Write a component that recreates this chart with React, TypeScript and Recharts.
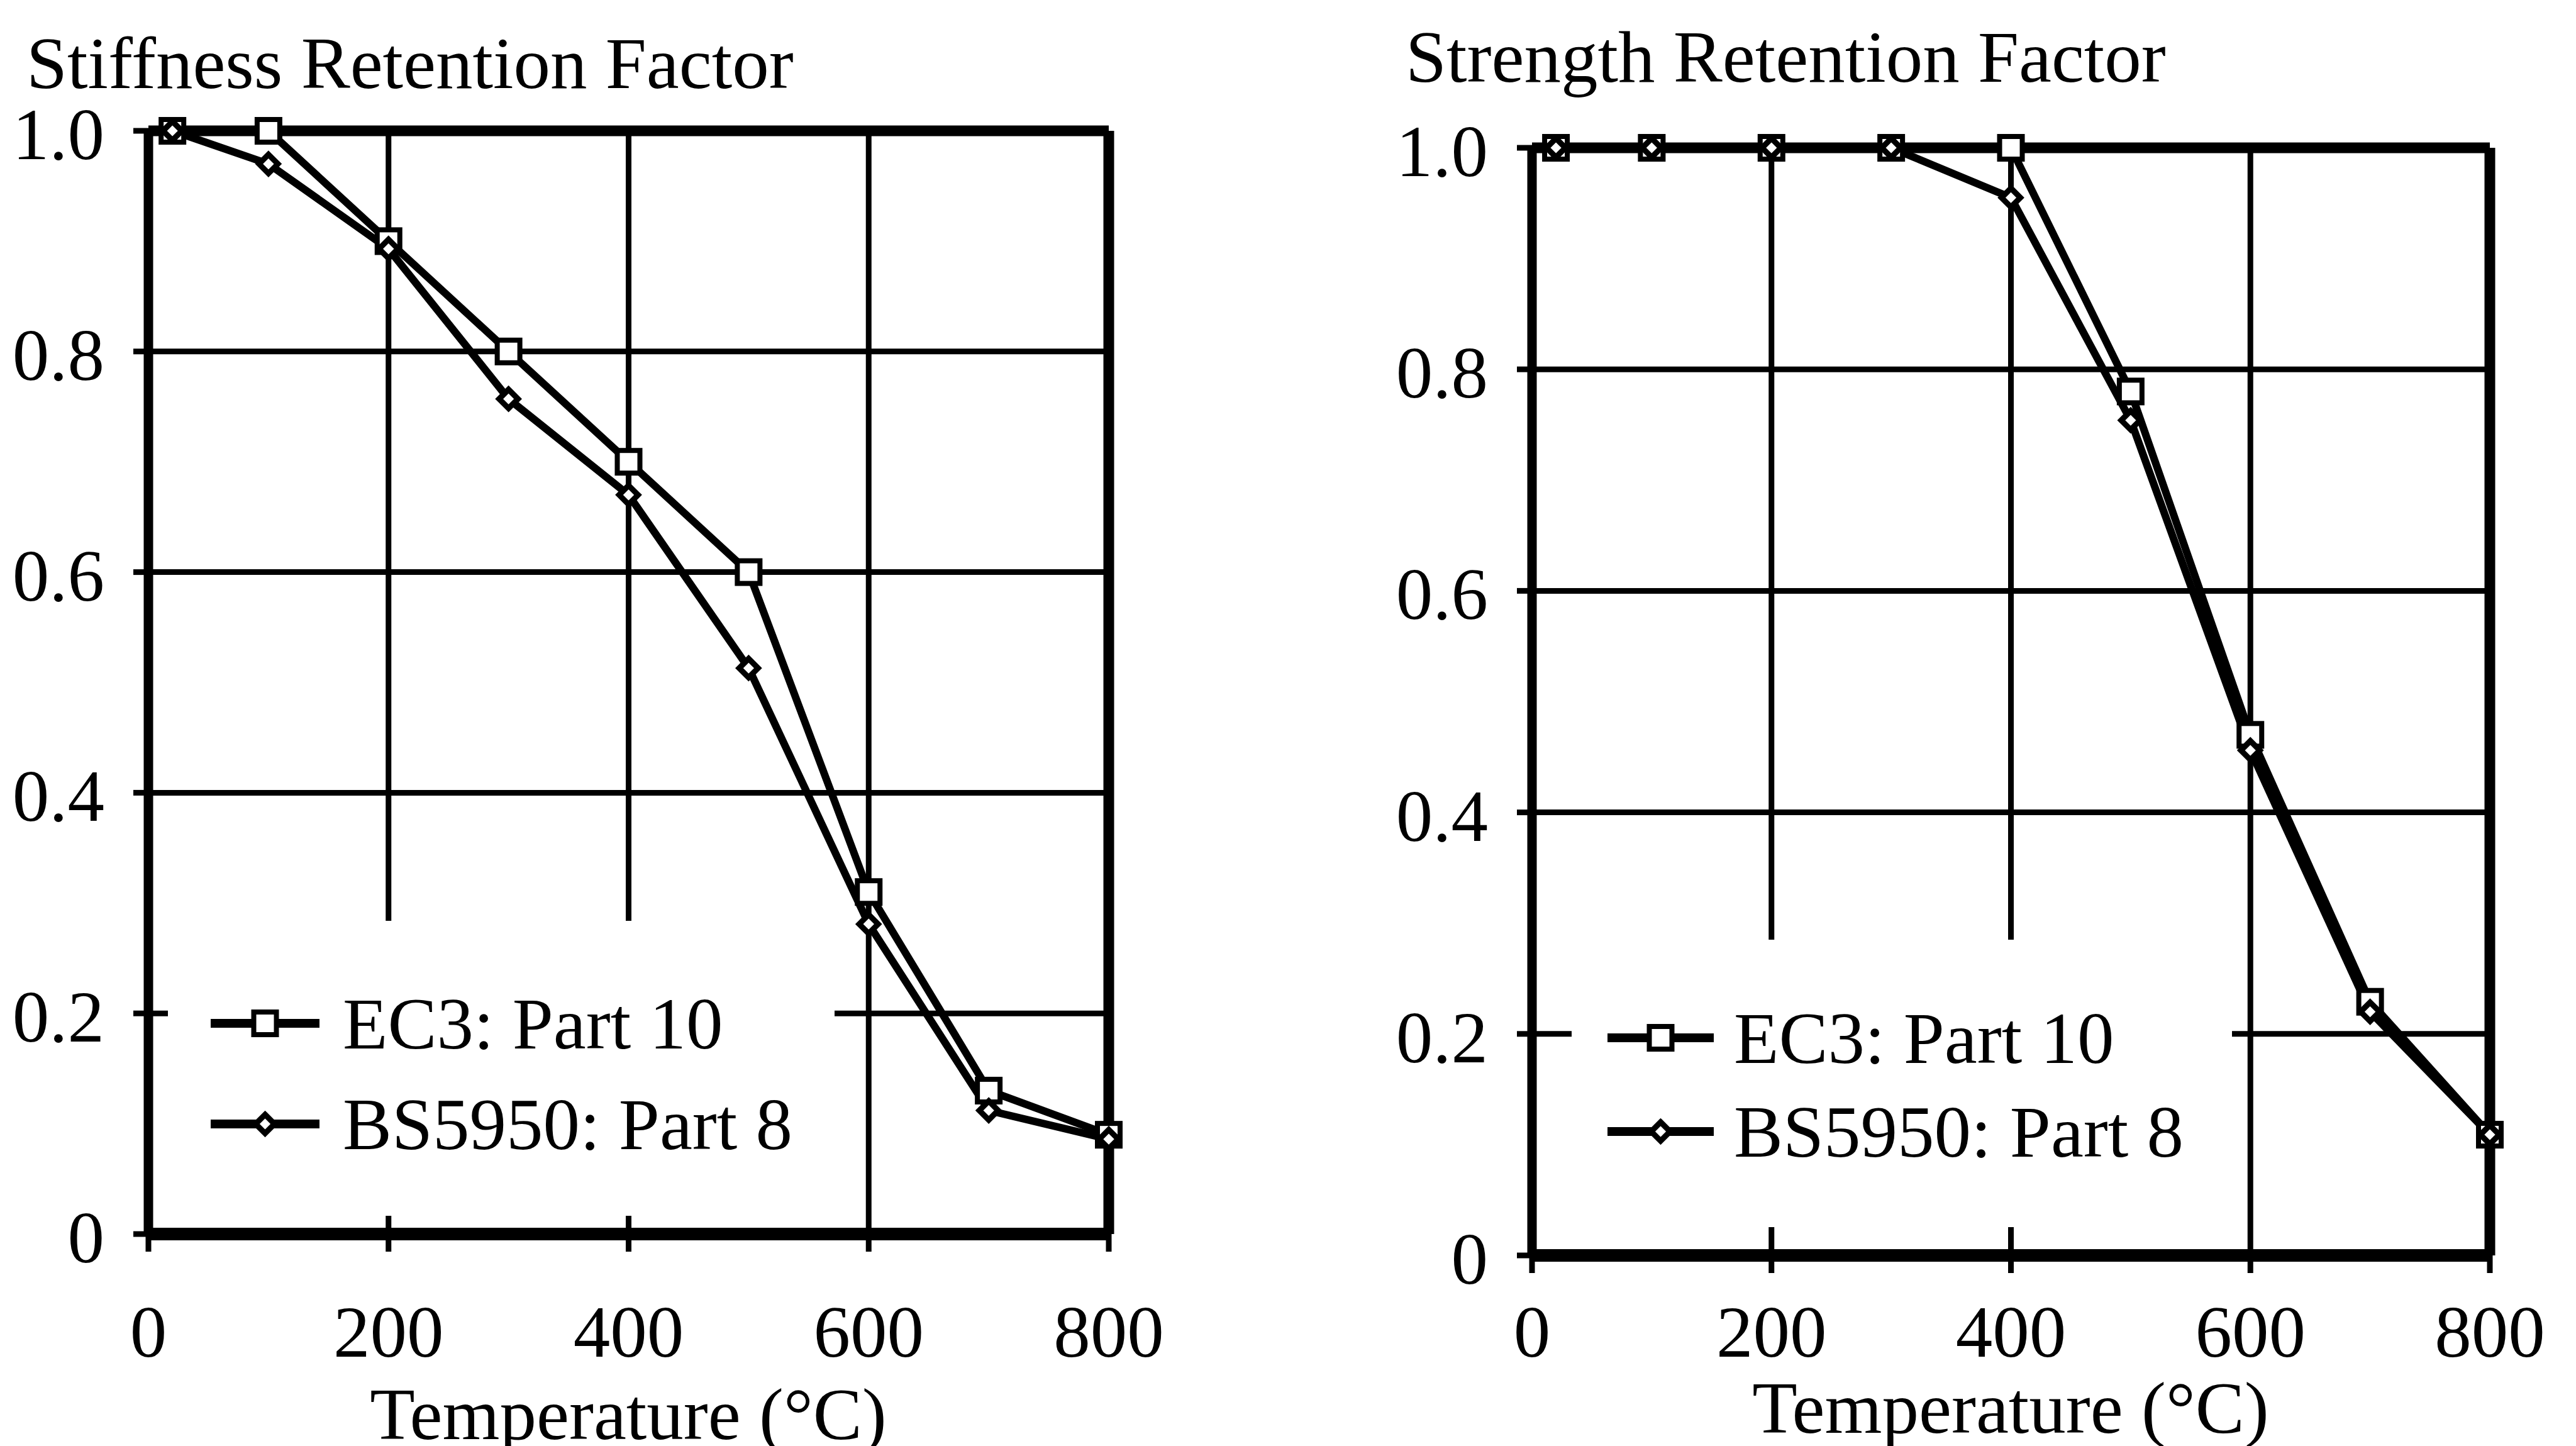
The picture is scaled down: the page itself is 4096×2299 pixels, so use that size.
import React from "react";
import { CartesianGrid, Line, LineChart, ReferenceLine, XAxis, YAxis } from "recharts";

// Temperatures (°C) at which the reduction factors are tabulated
const temps = [20, 100, 200, 300, 400, 500, 600, 700, 800];

// Stiffness retention factors
const stiffnessEC3 = [1.0, 1.0, 0.9, 0.8, 0.7, 0.6, 0.31, 0.13, 0.09];
const stiffnessBS = [1.0, 0.97, 0.893, 0.757, 0.67, 0.513, 0.281, 0.112, 0.086];

// Strength retention factors
const strengthEC3 = [1.0, 1.0, 1.0, 1.0, 1.0, 0.78, 0.47, 0.229, 0.109];
const strengthBS = [1.0, 1.0, 1.0, 1.0, 0.955, 0.754, 0.456, 0.22, 0.109];

const xTicks = [0, 200, 400, 600, 800];
const yTicks = [0, 0.2, 0.4, 0.6, 0.8, 1.0];
const seriesNames = ["EC3: Part 10", "BS5950: Part 8"];

const FONT = '"Liberation Serif", "Times New Roman", serif';
const FS = 117;

const Square = (props: any) => {
  const { cx, cy, index } = props;
  if (cx == null || cy == null) return null;
  return (
    <rect key={`sq-${index}`} x={cx - 18} y={cy - 18} width={36} height={36}
      fill="#fff" stroke="#000" strokeWidth={8} />
  );
};

const Diamond = (props: any) => {
  const { cx, cy, index } = props;
  if (cx == null || cy == null) return null;
  const r = 15;
  return (
    <path key={`dm-${index}`}
      d={`M${cx},${cy - r} L${cx + r},${cy} L${cx},${cy + r} L${cx - r},${cy} Z`}
      fill="#fff" stroke="#000" strokeWidth={9} />
  );
};

type PanelProps = {
  left: number;
  margin: { top: number; right: number; bottom: number; left: number };
  xLabelBaseline: number;
  ec3: number[];
  bs: number[];
};

function Panel({ left, margin, xLabelBaseline, ec3, bs }: PanelProps) {
  const data = temps.map((t, i) => ({ t, ec3: ec3[i], bs: bs[i] }));

  const xTick = (p: any) => (
    <text x={p.x} y={xLabelBaseline} textAnchor="middle" fontFamily={FONT} fontSize={FS} fill="#000">
      {p.payload.value}
    </text>
  );
  const yTick = (p: any) => (
    <text x={p.x} y={p.y + 45} textAnchor="end" fontFamily={FONT} fontSize={FS} fill="#000">
      {p.payload.value === 0 ? "0" : p.payload.value.toFixed(1)}
    </text>
  );

  return (
    <div style={{ position: "absolute", left, top: 0 }}>
      <LineChart width={2048} height={2299} data={data} margin={margin}>
        <CartesianGrid stroke="#000" strokeWidth={9} />
        <XAxis dataKey="t" type="number" domain={[0, 800]} ticks={xTicks} interval={0}
          height={60} tickSize={28} tickMargin={4}
          axisLine={{ stroke: "#000", strokeWidth: 20 }}
          tickLine={{ stroke: "#000", strokeWidth: 9 }} tick={xTick} />
        <YAxis type="number" domain={[0, 1]} ticks={yTicks} interval={0}
          width={100} tickSize={24} tickMargin={46}
          axisLine={{ stroke: "#000", strokeWidth: 15 }}
          tickLine={{ stroke: "#000", strokeWidth: 9 }} tick={yTick} />
        <ReferenceLine y={1} stroke="#000" strokeWidth={17} />
        <ReferenceLine x={800} stroke="#000" strokeWidth={17} />
        <Line type="linear" dataKey="ec3" name={seriesNames[0]} stroke="#000" strokeWidth={12}
          dot={Square} activeDot={false} isAnimationActive={false} />
        <Line type="linear" dataKey="bs" name={seriesNames[1]} stroke="#000" strokeWidth={12}
          dot={Diamond} activeDot={false} isAnimationActive={false} />
      </LineChart>
    </div>
  );
}

function LegendBlock({ box, lineX, textX, rowY }: {
  box: [number, number, number, number];
  lineX: [number, number];
  textX: number;
  rowY: [number, number];
}) {
  const mid = (lineX[0] + lineX[1]) / 2;
  return (
    <g>
      <rect x={box[0]} y={box[1]} width={box[2]} height={box[3]} fill="#fff" />
      {seriesNames.map((name, i) => (
        <g key={name}>
          <line x1={lineX[0]} x2={lineX[1]} y1={rowY[i]} y2={rowY[i]} stroke="#000" strokeWidth={14} />
          {i === 0 ? <Square cx={mid} cy={rowY[i]} index={0} /> : <Diamond cx={mid} cy={rowY[i]} index={0} />}
          <text x={textX} y={rowY[i] + 40} fontFamily={FONT} fontSize={FS} fill="#000">{name}</text>
        </g>
      ))}
    </g>
  );
}

export default function App() {
  return (
    <div style={{ position: "absolute", left: 0, top: 0, width: 4096, height: 2299, background: "#fff", overflow: "hidden" }}>
      <Panel left={0} margin={{ top: 208, right: 285, bottom: 277, left: 136 }}
        xLabelBaseline={2157} ec3={stiffnessEC3} bs={stiffnessBS} />
      <Panel left={2048} margin={{ top: 235, right: 137, bottom: 243, left: 288 }}
        xLabelBaseline={2157} ec3={strengthEC3} bs={strengthBS} />
      <svg width={4096} height={2299} style={{ position: "absolute", left: 0, top: 0, pointerEvents: "none" }}>
        <text x={42} y={140} fontFamily={FONT} fontSize={FS} fill="#000">Stiffness Retention Factor</text>
        <text x={2235} y={130} fontFamily={FONT} fontSize={FS} fill="#000">Strength Retention Factor</text>
        <text x={999} y={2288} textAnchor="middle" fontFamily={FONT} fontSize={FS} fill="#000">Temperature (°C)</text>
        <text x={3197} y={2278} textAnchor="middle" fontFamily={FONT} fontSize={FS} fill="#000">Temperature (°C)</text>
        <LegendBlock box={[267, 1464, 1060, 469]} lineX={[335, 508]} textX={545} rowY={[1627, 1787]} />
        <LegendBlock box={[2499, 1494, 1050, 457]} lineX={[2556, 2725]} textX={2757} rowY={[1650, 1799]} />
      </svg>
    </div>
  );
}
